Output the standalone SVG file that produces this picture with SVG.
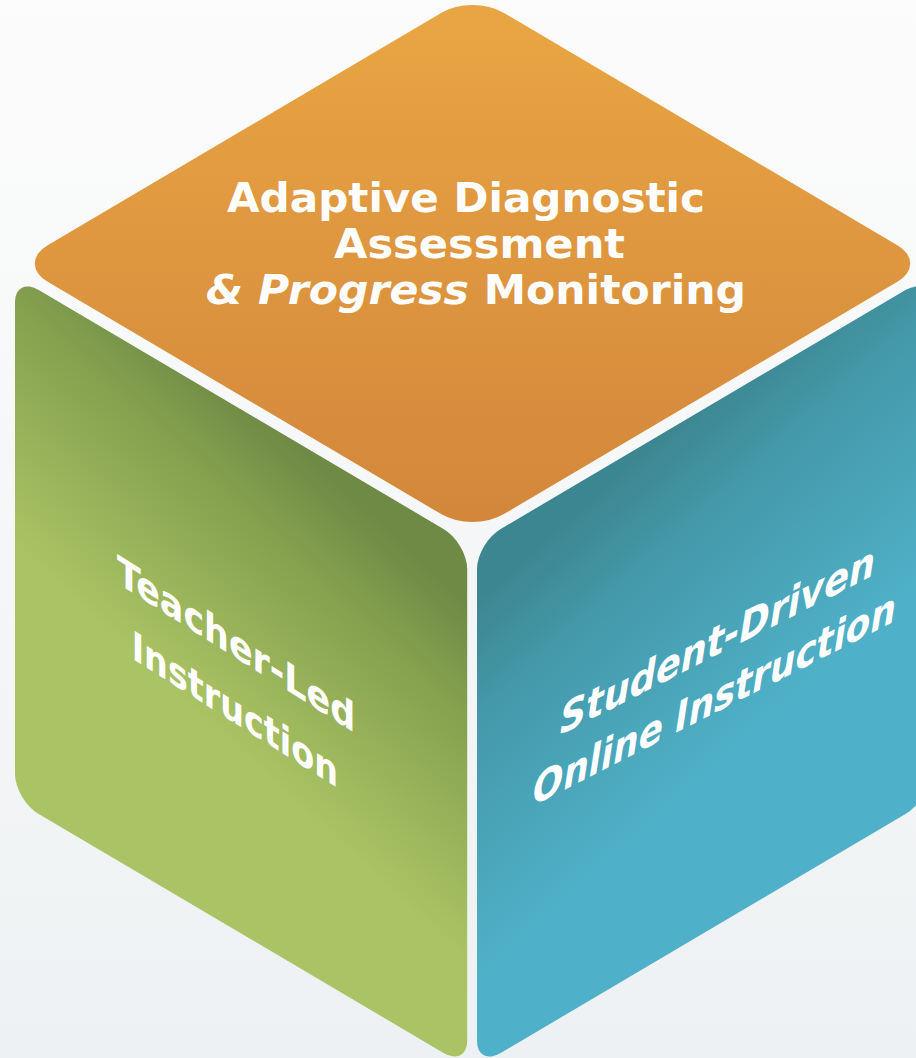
<svg xmlns="http://www.w3.org/2000/svg" width="916" height="1058" viewBox="0 0 916 1058">
<defs>
<style>
.lbl{fill:#ffffff;font-family:"DejaVu Sans","Liberation Sans",sans-serif;font-weight:bold;}
</style>
<linearGradient id="bg" x1="0" y1="0" x2="0" y2="1">
<stop offset="0" stop-color="#fcfcfc"/>
<stop offset="1" stop-color="#eef1f3"/>
</linearGradient>
<linearGradient id="gOrange" gradientUnits="userSpaceOnUse" x1="0" y1="0" x2="500" y2="500">
<stop offset="0" stop-color="#EAA643"/>
<stop offset="1" stop-color="#D2863B"/>
</linearGradient>
<linearGradient id="gGreen" gradientUnits="userSpaceOnUse" x1="300" y1="0" x2="200" y2="330">
<stop offset="0" stop-color="#6E8A45"/>
<stop offset="0.3" stop-color="#84A04E"/>
<stop offset="1" stop-color="#AAC364"/>
</linearGradient>
<linearGradient id="gBlue" gradientUnits="userSpaceOnUse" x1="200" y1="0" x2="300" y2="360">
<stop offset="0" stop-color="#3C8691"/>
<stop offset="0.3" stop-color="#4498A8"/>
<stop offset="1" stop-color="#4FB1C9"/>
</linearGradient>
</defs>
<rect x="0" y="0" width="916" height="1058" fill="url(#bg)"/>
<g id="face-top">
<rect x="0" y="0" width="500" height="500" rx="34" ry="34" fill="url(#gOrange)" transform="matrix(0.9117,0.5382,-0.9117,0.5382,472.5,-5.6)"/>
<text class="lbl" x="466" y="212" font-size="41" text-anchor="middle" textLength="478" lengthAdjust="spacingAndGlyphs">Adaptive Diagnostic</text>
<text class="lbl" x="479.5" y="258" font-size="41" text-anchor="middle" textLength="291" lengthAdjust="spacingAndGlyphs">Assessment</text>
<text class="lbl" x="476" y="304" font-size="41" text-anchor="middle" textLength="540" lengthAdjust="spacingAndGlyphs"><tspan font-style="italic">&amp; Progress</tspan> Monitoring</text>
</g>
<g id="face-left">
<rect x="0" y="0" width="496" height="524" rx="26" ry="26" fill="url(#gGreen)" transform="matrix(0.9117,0.5382,0,1,15,276)"/>
<g transform="matrix(0.863,0.544,0,1,117,583)">
<text class="lbl" x="0" y="0" font-size="40" textLength="276" lengthAdjust="spacingAndGlyphs">Teacher-Led</text>
<text class="lbl" x="17" y="66" font-size="40" textLength="239" lengthAdjust="spacingAndGlyphs">Instruction</text>
</g>
</g>
<g id="face-right">
<rect x="0" y="0" width="496" height="524" rx="26" ry="26" fill="url(#gBlue)" transform="matrix(0.9117,-0.5382,0,1,477,543)"/>
<g transform="matrix(0.87,-0.444,0,1,560,735)">
<text class="lbl" x="0" y="0" font-size="41" font-style="italic" textLength="362" lengthAdjust="spacingAndGlyphs">Student-Driven</text>
<text class="lbl" x="-31" y="57" font-size="41" font-style="italic" textLength="417" lengthAdjust="spacingAndGlyphs">Online Instruction</text>
</g>
</g>
<g id="connectors"></g>
</svg>
